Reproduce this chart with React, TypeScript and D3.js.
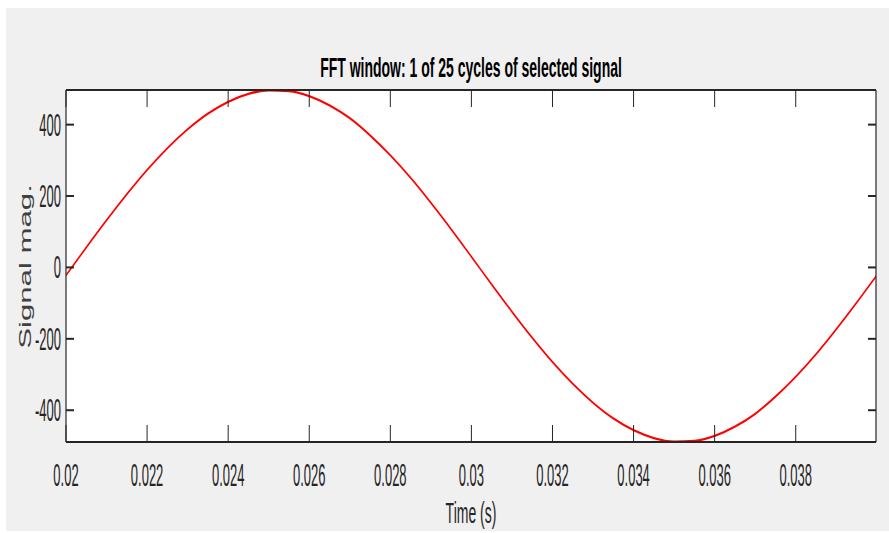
import React from "react";
import * as d3 from "d3";

const times = [
  0.02, 0.0205, 0.021, 0.0215, 0.022, 0.0225, 0.023, 0.0235, 0.024, 0.0245,
  0.025, 0.0255, 0.026, 0.0265, 0.027, 0.0275, 0.028, 0.0285, 0.029, 0.0295,
  0.03, 0.0305, 0.031, 0.0315, 0.032, 0.0325, 0.033, 0.0335, 0.034, 0.0345,
  0.035, 0.0355, 0.036, 0.0365, 0.037, 0.0375, 0.038, 0.0385, 0.039, 0.0395,
  0.04,
];
const signal = [
  -22, 56, 132, 205, 273, 334, 387, 431, 464, 486,
  496, 494, 480, 454, 418, 370, 314, 251, 181, 107,
  30, -48, -124, -197, -265, -326, -379, -423, -456, -478,
  -488, -486, -472, -446, -410, -362, -306, -243, -173, -99,
  -22,
];
const xTicks = [0.02, 0.022, 0.024, 0.026, 0.028, 0.03, 0.032, 0.034, 0.036, 0.038];
const xTickLabels = ["0.02", "0.022", "0.024", "0.026", "0.028", "0.03", "0.032", "0.034", "0.036", "0.038"];
const yTicks = [-400, -200, 0, 200, 400];
const yTickLabels = ["-400", "-200", "0", "200", "400"];
const xDomain = [0.02, 0.03998];
const yDomain = [-489, 497];
const titleText = "FFT window: 1 of 25 cycles of selected signal";
const xLabelText = "Time (s)";
const yLabelText = "Signal mag.";

const W = 889;
const H = 533;
const L = 66, R = 876, T = 90, B = 442;
const AX = "#262626";
const FONT = "'Liberation Sans', Arial, Helvetica, sans-serif";
const S = 2; // vertical stretch of the line drawing

export default function App() {
  const x = d3.scaleLinear().domain(xDomain).range([L, R]);
  const y = d3.scaleLinear().domain(yDomain).range([B, T]);
  const yS = d3.scaleLinear().domain(yDomain).range([B / S, T / S]);
  const pts = times.map((t, i) => [t, signal[i]] as [number, number]);
  const line = d3
    .line<[number, number]>()
    .x((d) => x(d[0]))
    .y((d) => yS(d[1]))
    .curve(d3.curveMonotoneX);

  const tickSy = 2.35;
  const tickF = 13;
  return (
    <svg
      width={W}
      height={H}
      style={{ position: "absolute", left: 0, top: 0, display: "block" }}
    >
      <rect x={0} y={0} width={W} height={H} fill="#ffffff" />
      <rect x={6} y={8} width={W - 6} height={523} fill="#f0f0f0" />
      <rect x={L} y={T} width={R - L} height={B - T} fill="#ffffff" />
      <defs>
        <clipPath id="plotclip">
          <rect x={L} y={T - 4} width={R - L} height={B - T + 8} />
        </clipPath>
      </defs>
      <g clipPath="url(#plotclip)">
        <g transform={`scale(1,${S})`}>
          <path d={line(pts) || ""} fill="none" stroke="#ff0000" strokeWidth={1.15} />
        </g>
      </g>
      {/* axes box */}
      <line x1={L} x2={R} y1={T} y2={T} stroke={AX} strokeWidth={2} />
      <line x1={L} x2={R} y1={B} y2={B} stroke={AX} strokeWidth={2} />
      <line x1={L} x2={L} y1={T} y2={B} stroke={AX} strokeWidth={1.2} />
      <line x1={R} x2={R} y1={T} y2={B} stroke={AX} strokeWidth={1.2} />
      {xTicks.map((t, i) => (
        <g key={"xt" + i}>
          <line x1={x(t)} x2={x(t)} y1={B} y2={B - 17} stroke={AX} strokeWidth={1} />
          <line x1={x(t)} x2={x(t)} y1={T} y2={T + 17} stroke={AX} strokeWidth={1} />
          <text
            transform={`translate(${x(t)},${485.5}) scale(1,${tickSy})`}
            textAnchor="middle"
            fontFamily={FONT}
            fontSize={tickF}
            fill={AX}
          >
            {xTickLabels[i]}
          </text>
        </g>
      ))}
      {yTicks.map((v, i) => (
        <g key={"yt" + i}>
          <line x1={L} x2={L + 8} y1={y(v)} y2={y(v)} stroke={AX} strokeWidth={2} />
          <line x1={R} x2={R - 8} y1={y(v)} y2={y(v)} stroke={AX} strokeWidth={2} />
          <text
            transform={`translate(${61},${y(v) + 10.9}) scale(1,${tickSy})`}
            textAnchor="end"
            fontFamily={FONT}
            fontSize={tickF}
            fill={AX}
          >
            {yTickLabels[i]}
          </text>
        </g>
      ))}
      <text
        transform={`translate(${(L + R) / 2},${77.3}) scale(1,2.0)`}
        textAnchor="middle"
        fontFamily={FONT}
        fontSize={14}
        fontWeight="bold"
        fill="#000"
      >
        {titleText}
      </text>
      <text
        transform={`translate(${(L + R) / 2},${523}) scale(1,2.05)`}
        textAnchor="middle"
        fontFamily={FONT}
        fontSize={14}
        fill={AX}
      >
        {xLabelText}
      </text>
      <text
        transform={`translate(31,266.5) scale(1,1.95) rotate(-90)`}
        textAnchor="middle"
        fontFamily={FONT}
        fontSize={16}
        fill="#404040"
      >
        {yLabelText}
      </text>
    </svg>
  );
}
